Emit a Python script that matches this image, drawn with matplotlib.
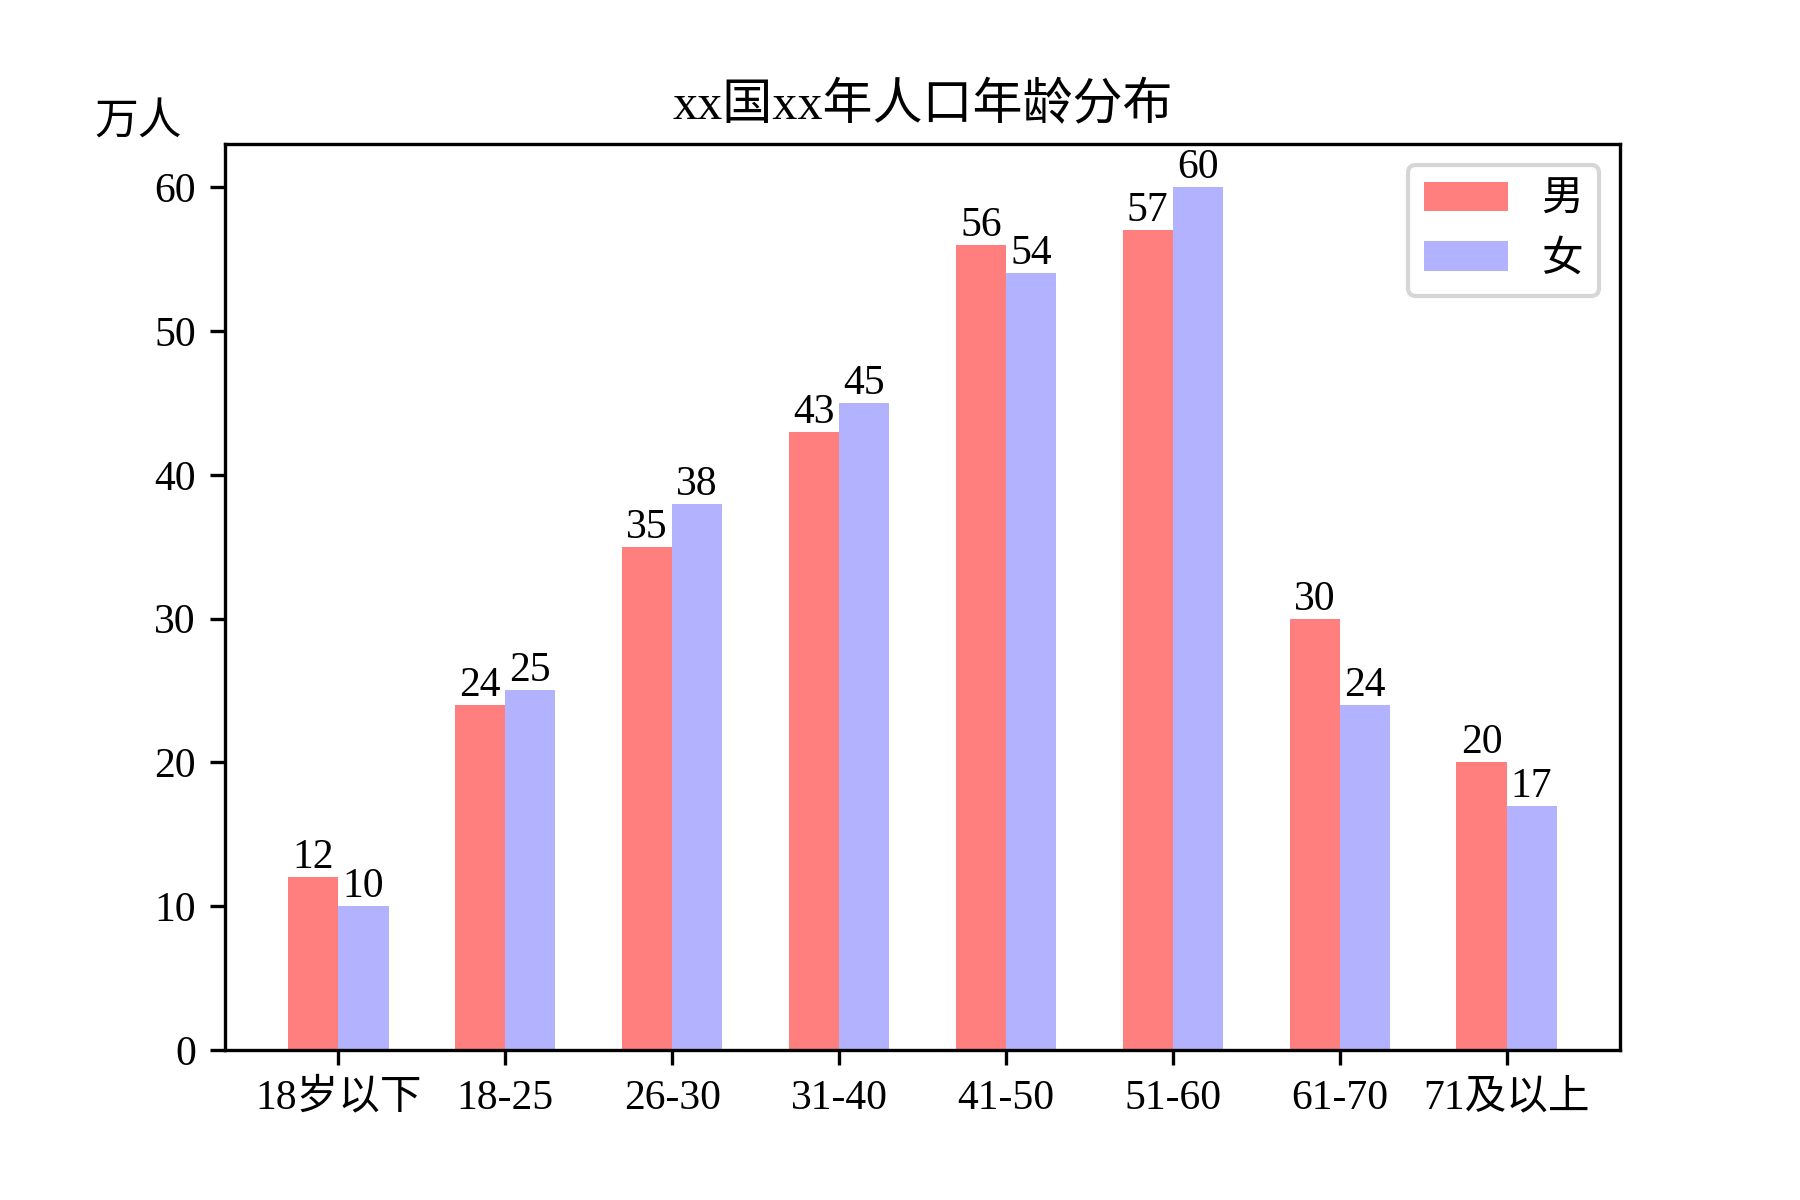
import matplotlib
matplotlib.use("Agg")
import matplotlib.pyplot as plt
import numpy as np

plt.rcParams['font.family'] = ['Liberation Serif', 'Noto Sans CJK SC']
plt.rcParams['axes.unicode_minus'] = False

# data
age_groups = ["18岁以下", "18-25", "26-30", "31-40", "41-50", "51-60", "61-70", "71及以上"]
male = [12, 24, 35, 43, 56, 57, 30, 20]
female = [10, 25, 38, 45, 54, 60, 24, 17]

x = np.arange(len(age_groups))
width = 0.3

fig, ax = plt.subplots(figsize=(6, 4), dpi=300)
fig.subplots_adjust(left=0.125, right=0.9, top=0.88, bottom=0.125)

ax.bar(x - width / 2, male, width=width, color='red', alpha=0.5, label='男')
ax.bar(x + width / 2, female, width=width, color='blue', alpha=0.3, label='女')

# value labels on top of bars
for xi, m, f in zip(x, male, female):
    ax.text(xi - width / 2, m, str(m), ha='center', va='bottom', fontsize=10)
    ax.text(xi + width / 2, f, str(f), ha='center', va='bottom', fontsize=10)

ax.set_xticks(x)
ax.set_xticklabels(age_groups, fontsize=10)
ax.tick_params(axis='y', labelsize=10)
ax.set_title("xx国xx年人口年龄分布", fontsize=12)
ax.text(-0.062, 1.023, "万人", transform=ax.transAxes, ha='center', va='center', fontsize=10.5)
ax.legend(loc='upper right')

plt.savefig("out.png", dpi=300)
